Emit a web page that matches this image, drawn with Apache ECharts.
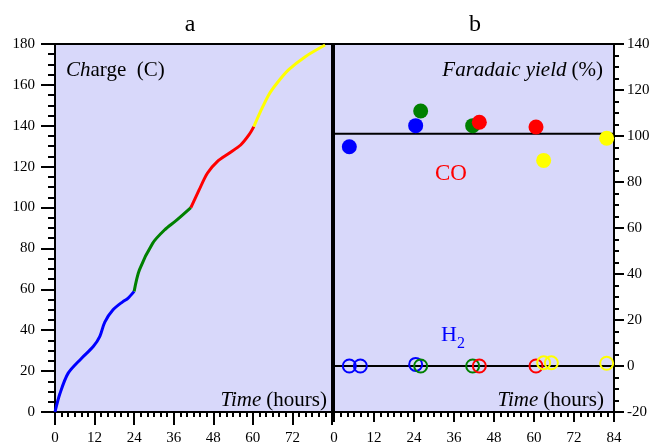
<!DOCTYPE html>
<html>
<head>
<meta charset="utf-8">
<script src="https://cdn.jsdelivr.net/npm/echarts@6/dist/echarts.min.js"></script>
<style>html,body{margin:0;padding:0;background:#fff}#c{width:655px;height:447px}</style>
</head>
<body>
<div id="c"></div>
<script>
// Panel a: charge (C) vs time (hours), one segment per colour
const chargeBlue = [[0,0],[1.5,9],[4,19],[8,26.2],[11.6,32],[13.6,37],[15.1,44],[17.6,50],[20.6,54],[22.1,55.6],[24,59]];
const chargeGreen = [[24,59],[25.6,69.5],[29.6,82.5],[33.2,89],[36.7,93.6],[41.2,100]];
const chargeRed = [[41.2,100],[43.7,108.6],[46.2,116.8],[49.2,122.5],[52.8,126.6],[56.3,130.6],[58.8,135.5],[60.3,139.6]];
const chargeYellow = [[60.3,139.6],[62.3,146.9],[64.8,155.1],[67.3,160.8],[70.8,167.3],[75.9,173.8],[81.9,179.5]];
// Panel b: Faradaic yield (%) vs time (hours)
const coBlue = [[4.6,95.3],[24.5,104.5]];
const coGreen = [[26,110.9],[41.6,104.5]];
const coRed = [[43.6,106],[60.6,103.9]];
const coYellow = [[62.9,89.4],[81.8,99]];
const h2Blue = [[4.6,0],[7.9,0],[24.5,0.7]];
const h2Green = [[26,0],[41.6,0]];
const h2Red = [[43.6,0],[60.6,0]];
const h2Yellow = [[62.9,1.4],[65.2,1.4],[81.8,1.2]];
const coLevel = 101;
const h2Level = 0;
const timeTicks = [0,12,24,36,48,60,72,84];

const SERIF = '"Liberation Serif","DejaVu Serif",serif';
const BG = '#d8d8fa';
const colors = {blue:'#0000ff', green:'#008000', red:'#ff0000', yellow:'#ffff00'};

function xAx(grid, tickLen, hideMax){
  return {
    type:'value', gridIndex:grid, min:0, max:84, interval:12,
    axisLine:{show:true, onZero:false, lineStyle:{color:'#000', width:2}},
    axisTick:{show:true, length:tickLen, lineStyle:{color:'#000', width:2}},
    minorTick:{show:true, splitNumber:6, length:5, lineStyle:{color:'#000', width:2}},
    splitLine:{show:false}, minorSplitLine:{show:false},
    axisLabel:{color:'#000', fontFamily:SERIF, fontSize:15, margin:19, showMaxLabel: !hideMax,
      formatter: v => timeTicks.indexOf(v) >= 0 ? String(v) : ''}
  };
}
function yAx(grid, min, max, pos, tickLen, minorLen, margin){
  return {
    type:'value', gridIndex:grid, min:min, max:max, interval:20, position:pos,
    axisLine:{show:true, onZero:false, lineStyle:{color:'#000', width:2}},
    axisTick:{show:true, length:tickLen, lineStyle:{color:'#000', width:2}},
    minorTick:{show:true, splitNumber:4, length:minorLen, lineStyle:{color:'#000', width:2}},
    splitLine:{show:false}, minorSplitLine:{show:false},
    axisLabel:{color:'#000', fontFamily:SERIF, fontSize:15, margin:margin}
  };
}
function chargeLine(data, color){
  return {type:'line', xAxisIndex:0, yAxisIndex:0, data:data, smooth:0.3, showSymbol:false,
    lineStyle:{color:color, width:3}, z:3, silent:true};
}
function coScatter(data, color){
  return {type:'scatter', xAxisIndex:1, yAxisIndex:1, data:data, symbol:'circle', symbolSize:15,
    itemStyle:{color:color, opacity:1}, z:4, silent:true};
}
function h2Scatter(data, color){
  return {type:'scatter', xAxisIndex:1, yAxisIndex:1, data:data, symbol:'circle', symbolSize:13,
    itemStyle:{color:'rgba(0,0,0,0)', borderColor:color, borderWidth:2, opacity:1}, z:4, silent:true};
}
function levelLine(v){
  return {type:'line', xAxisIndex:1, yAxisIndex:1, data:[[0,v],[84,v]], showSymbol:false,
    lineStyle:{color:'#000', width:2}, z:2, silent:true};
}
function rich(size){
  return {
    i:{fontFamily:SERIF, fontSize:size, fontStyle:'italic', fontWeight:'normal', color:'#000'},
    n:{fontFamily:SERIF, fontSize:size, fontWeight:'normal', color:'#000'}
  };
}

const chart = echarts.init(document.getElementById('c'), null, {renderer:'canvas'});
chart.setOption({
  animation:false,
  backgroundColor:'#fff',
  grid:[
    {left:55, top:44, width:277, height:368, show:true, backgroundColor:BG, borderColor:'#000', borderWidth:2},
    {left:334, top:44, width:280, height:368, show:true, backgroundColor:BG, borderColor:'#000', borderWidth:2}
  ],
  xAxis:[xAx(0, 13, true), xAx(1, 10, false)],
  yAxis:[yAx(0, 0, 180, 'left', 14, 7, 20), yAx(1, -20, 140, 'right', 10, 5, 13)],
  title:[
    {text:'a', left:185, top:8, textAlign:'center', textStyle:{fontFamily:SERIF, fontSize:24, fontWeight:'normal', color:'#000'}},
    {text:'b', left:470, top:8, textAlign:'center', textStyle:{fontFamily:SERIF, fontSize:24, fontWeight:'normal', color:'#000'}},
    {text:'{i|Ch}{n|arge  (C)}', left:61, top:55, textStyle:{fontWeight:'normal', rich:rich(21)}},
    {text:'{i|Time} {n|(hours)}', right:323, top:385, textStyle:{fontWeight:'normal', rich:rich(21)}},
    {text:'{i|Faradaic yield} {n|(%)}', right:47, top:55, textStyle:{fontWeight:'normal', rich:rich(21)}},
    {text:'{i|Time} {n|(hours)}', right:46, top:385, textStyle:{fontWeight:'normal', rich:rich(21)}},
    {text:'CO', left:446, top:157, textAlign:'center', textStyle:{fontFamily:SERIF, fontSize:23, fontWeight:'normal', color:'#ff0000'}},
    {text:'{h|H}{s|2}', left:448, top:319, textAlign:'center', textStyle:{fontWeight:'normal', rich:{
      h:{fontFamily:SERIF, fontSize:22, fontWeight:'normal', color:'#0000ff', verticalAlign:'bottom'},
      s:{fontFamily:SERIF, fontSize:16, fontWeight:'normal', color:'#0000ff', verticalAlign:'bottom', padding:[0,0,-6,0]}}}}
  ],
  series:[
    chargeLine(chargeBlue, colors.blue),
    chargeLine(chargeGreen, colors.green),
    chargeLine(chargeRed, colors.red),
    chargeLine(chargeYellow, colors.yellow),
    levelLine(coLevel),
    levelLine(h2Level),
    coScatter(coBlue, colors.blue),
    coScatter(coGreen, colors.green),
    coScatter(coRed, colors.red),
    coScatter(coYellow, colors.yellow),
    h2Scatter(h2Blue, colors.blue),
    h2Scatter(h2Green, colors.green),
    h2Scatter(h2Red, colors.red),
    h2Scatter(h2Yellow, colors.yellow)
  ]
});
</script>
</body>
</html>
